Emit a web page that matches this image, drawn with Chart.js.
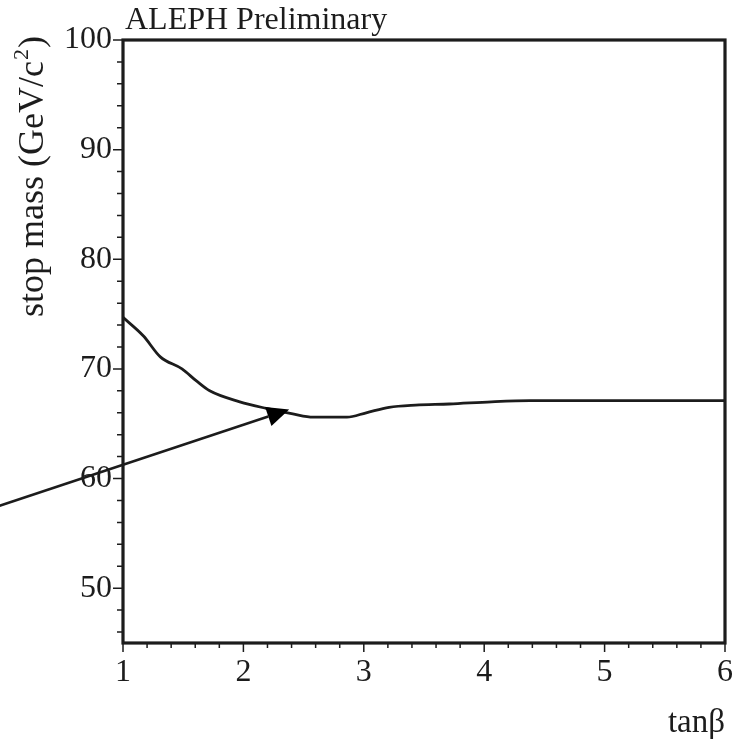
<!DOCTYPE html>
<html>
<head>
<meta charset="utf-8">
<script src="https://cdn.jsdelivr.net/npm/chart.js@4.4.1/dist/chart.umd.min.js"></script>
<style>
  html, body { margin: 0; padding: 0; background: #fff; }
  #wrap { width: 737px; height: 740px; }
</style>
</head>
<body>
<div id="wrap"><canvas id="stopChart"></canvas></div>
<script>
// curve
const tanBeta  = [1.00, 1.17, 1.31, 1.49, 1.61, 1.72, 1.97, 2.19, 2.41, 2.58, 2.86, 3.02, 3.21, 3.43, 3.71, 4.06, 4.38, 5.00, 6.00];
const stopMass = [74.7, 73.0, 71.1, 70.0, 68.9, 68.0, 67.0, 66.4, 65.9, 65.6, 65.6, 66.0, 66.5, 66.7, 66.8, 67.0, 67.1, 67.1, 67.1];

const xTicks = [1, 2, 3, 4, 5, 6];
const yTicks = [50, 60, 70, 80, 90, 100];
const xMinorStep = 0.2;
const yMinorStep = 2;

// arrow annotation, in data units (tail starts left of the axis)
const arrowTail = [-0.03, 57.5];
const arrowHead = [2.38, 66.3];

const serif = '"Liberation Serif", "DejaVu Serif", serif';
const ink = '#1c1c1c';

// frame, ticks, texts and arrow
const decorations = {
  id: 'decorations',
  afterDraw(chart) {
    const { ctx, chartArea: a, scales: { x, y } } = chart;
    ctx.save();
    ctx.strokeStyle = ink;
    ctx.fillStyle = ink;

    // minor + major ticks, outward
    ctx.lineWidth = 1.5;
    ctx.beginPath();
    for (let v = 1; v <= 6.0001; v += xMinorStep) {
      const px = x.getPixelForValue(v);
      const major = Math.abs(v - Math.round(v)) < 1e-6;
      ctx.moveTo(px, a.bottom);
      ctx.lineTo(px, a.bottom + (major ? 9 : 5));
    }
    for (let v = 46; v <= 100.0001; v += yMinorStep) {
      const py = y.getPixelForValue(v);
      const major = v % 10 === 0;
      ctx.moveTo(a.left, py);
      ctx.lineTo(a.left - (major ? 10 : 6), py);
    }
    ctx.stroke();

    // frame
    ctx.lineWidth = 3.2;
    ctx.strokeRect(a.left, a.top, a.right - a.left, a.bottom - a.top);

    // arrow
    const x0 = x.getPixelForValue(arrowTail[0]), y0 = y.getPixelForValue(arrowTail[1]);
    const x1 = x.getPixelForValue(arrowHead[0]), y1 = y.getPixelForValue(arrowHead[1]);
    const ang = Math.atan2(y1 - y0, x1 - x0);
    const hl = 22, hw = 10;
    const bx = x1 - hl * Math.cos(ang), by = y1 - hl * Math.sin(ang);
    ctx.lineWidth = 2.6;
    ctx.beginPath();
    ctx.moveTo(x0, y0);
    ctx.lineTo(bx, by);
    ctx.stroke();
    ctx.beginPath();
    ctx.moveTo(x1, y1);
    ctx.lineTo(bx + hw * Math.sin(ang), by - hw * Math.cos(ang));
    ctx.lineTo(bx - hw * Math.sin(ang), by + hw * Math.cos(ang));
    ctx.closePath();
    ctx.fillStyle = '#000';
    ctx.fill();

    // texts
    ctx.fillStyle = ink;
    ctx.textBaseline = 'alphabetic';
    ctx.font = '32px ' + serif;
    ctx.textAlign = 'left';
    ctx.fillText('ALEPH Preliminary', a.left + 2, 29);

    ctx.textAlign = 'right';
    ctx.font = '33px ' + serif;
    ctx.fillText('tan\u03B2', a.right, 732);

    // y title, rotated, with superscript 2
    ctx.save();
    ctx.translate(43, 317);
    ctx.rotate(-Math.PI / 2);
    ctx.textAlign = 'left';
    ctx.font = '36px ' + serif;
    const main = 'stop mass (GeV/c';
    ctx.fillText(main, 0, 0);
    let w = ctx.measureText(main).width;
    ctx.font = '22px ' + serif;
    ctx.fillText('2', w + 1, -15);
    w += ctx.measureText('2').width + 2;
    ctx.font = '36px ' + serif;
    ctx.fillText(')', w, 0);
    ctx.restore();

    ctx.restore();
  }
};

new Chart(document.getElementById('stopChart'), {
  type: 'line',
  data: {
    datasets: [{
      data: tanBeta.map((t, i) => ({ x: t, y: stopMass[i] })),
      borderColor: ink,
      borderWidth: 2.8,
      pointRadius: 0,
      cubicInterpolationMode: 'monotone',
      fill: false,
    }],
  },
  options: {
    responsive: true,
    maintainAspectRatio: false,
    animation: false,
    layout: { padding: { top: 40, right: 12, left: 0, bottom: 0 } },
    plugins: { legend: { display: false }, tooltip: { enabled: false } },
    scales: {
      x: {
        type: 'linear',
        min: 1,
        max: 6,
        grid: { display: false, drawTicks: false },
        border: { display: false },
        afterBuildTicks: s => { s.ticks = xTicks.map(v => ({ value: v })); },
        afterFit: s => { s.height = 97; s.paddingLeft = 0; s.paddingRight = 0; },
        ticks: {
          padding: 10,
          maxRotation: 0,
          color: ink,
          font: { family: serif, size: 32 },
        },
      },
      y: {
        min: 45,
        max: 100,
        grid: { display: false, drawTicks: false },
        border: { display: false },
        afterBuildTicks: s => { s.ticks = yTicks.map(v => ({ value: v })); },
        afterFit: s => { s.width = 123; s.paddingTop = 0; s.paddingBottom = 0; },
        ticks: {
          padding: 11,
          color: ink,
          font: { family: serif, size: 32 },
        },
      },
    },
  },
  plugins: [decorations],
});
</script>
</body>
</html>
